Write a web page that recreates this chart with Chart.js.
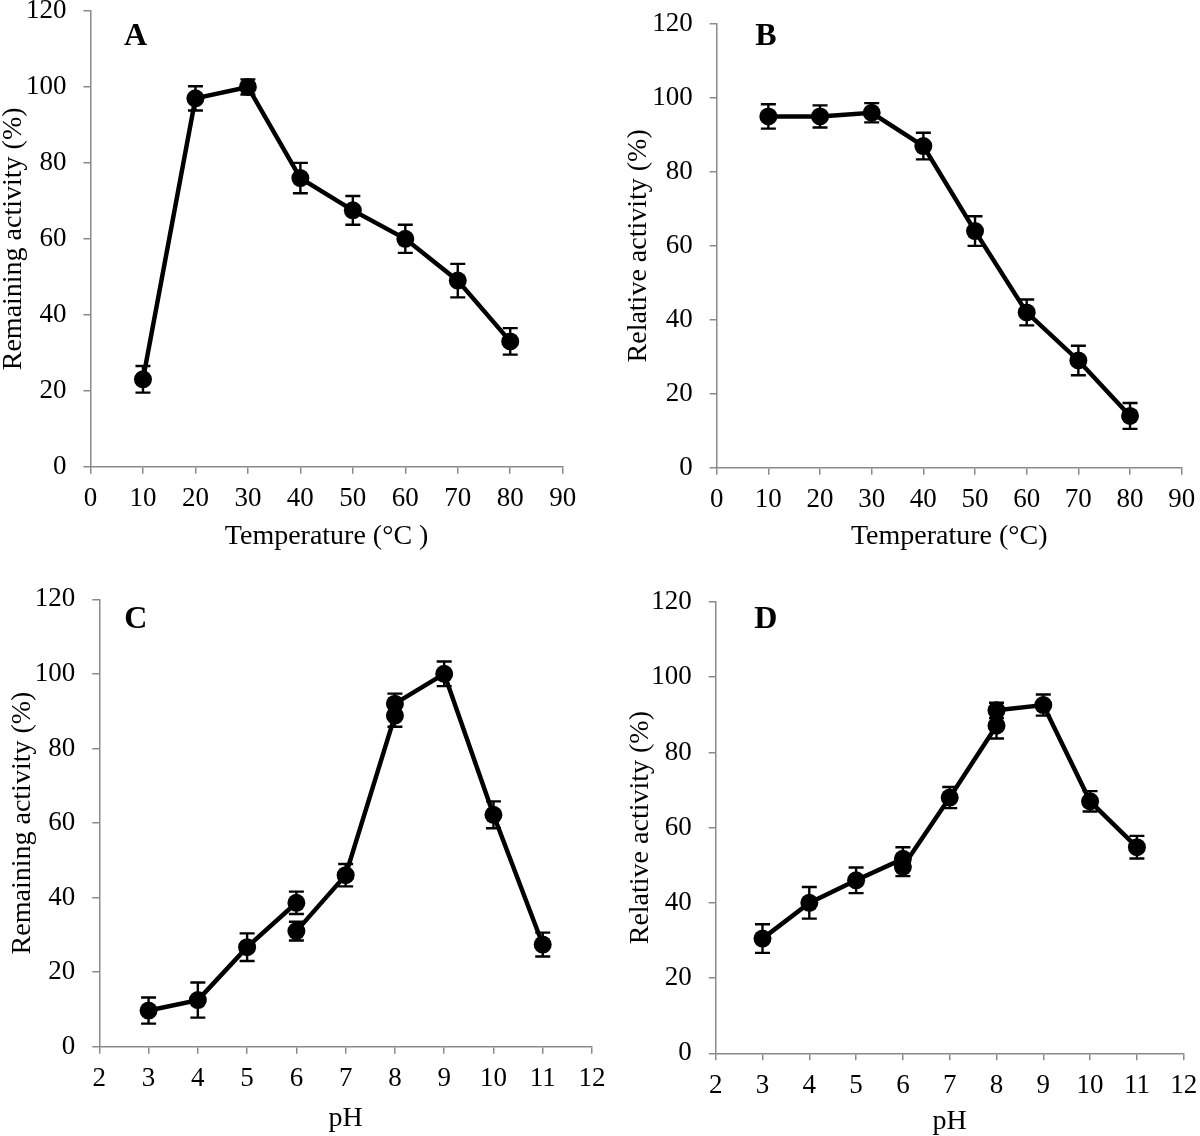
<!DOCTYPE html>
<html>
<head>
<meta charset="utf-8">
<script src="https://cdn.jsdelivr.net/npm/chart.js@4.4.1/dist/chart.umd.min.js"></script>
<style>
  body { margin: 0; background: #fff; }
  #wrap { position: relative; width: 1200px; height: 1136px; overflow: hidden; }
  canvas { position: absolute; }
</style>
</head>
<body>
<div id="wrap">
  <canvas id="chartA" width="620" height="568" style="left:0;top:0"></canvas>
  <canvas id="chartB" width="600" height="568" style="left:600px;top:0"></canvas>
  <canvas id="chartC" width="620" height="568" style="left:0;top:568px"></canvas>
  <canvas id="chartD" width="600" height="568" style="left:600px;top:568px"></canvas>
</div>
<script>
// temperature panels (A, B)
const tempX = [10, 20, 30, 40, 50, 60, 70, 80];
const remainTemp = [23, 97, 100, 76, 67.5, 60, 49, 33];
const remainTempErr = [3.5, 3.2, 2, 4, 3.8, 3.7, 4.4, 3.5];
const relTemp = [95, 95, 96, 87, 64, 42, 29, 14];
const relTempErr = [3.3, 3, 2.6, 3.6, 4, 3.5, 4, 3.5];

// pH panels (C, D) - three buffer ranges each
const phX1 = [3, 4, 5, 6];
const phX2 = [6, 7, 8];
const phX3 = [8, 9, 10, 11];
const remainPh1 = [9.7, 12.5, 26.7, 38.6];
const remainPh1Err = [3.5, 4.7, 3.7, 3];
const remainPh2 = [31, 46, 88.8];
const remainPh2Err = [2.5, 3, 3];
const remainPh3 = [92, 100, 62.2, 27.4];
const remainPh3Err = [2.7, 3.3, 3.6, 3.2];
const relPh1 = [30.5, 40, 46, 51.7];
const relPh1Err = [3.8, 4.2, 3.4, 3.1];
const relPh2 = [49.6, 68, 87.1];
const relPh2Err = [2.5, 2.8, 3.4];
const relPh3 = [91.2, 92.6, 67, 54.8];
const relPh3Err = [2, 2.8, 2.7, 3];

const yTicks = [0, 20, 40, 60, 80, 100, 120];

const serif = '"Liberation Serif", "Times New Roman", serif';
const axisGray = '#8a8a8a';

function series(xs, ys, errs) {
  return {
    data: xs.map((x, i) => ({ x: x, y: ys[i] })),
    errors: errs,
    showLine: true,
    borderColor: '#000',
    borderWidth: 4.5,
    backgroundColor: '#000',
    pointBackgroundColor: '#000',
    pointBorderWidth: 0,
    pointRadius: 9,
    tension: 0
  };
}

const errorBars = {
  id: 'errorBars',
  beforeDatasetsDraw(chart) {
    const { ctx, scales: { x, y } } = chart;
    ctx.save();
    ctx.strokeStyle = '#000';
    ctx.lineWidth = 2.4;
    chart.data.datasets.forEach(ds => {
      ds.data.forEach((p, i) => {
        const e = ds.errors[i];
        const px = x.getPixelForValue(p.x);
        const top = y.getPixelForValue(p.y + e);
        const bot = y.getPixelForValue(p.y - e);
        ctx.beginPath();
        ctx.moveTo(px, top); ctx.lineTo(px, bot);
        ctx.moveTo(px - 7.5, top); ctx.lineTo(px + 7.5, top);
        ctx.moveTo(px - 7.5, bot); ctx.lineTo(px + 7.5, bot);
        ctx.stroke();
      });
    });
    ctx.restore();
  }
};

const panelLetter = {
  id: 'panelLetter',
  afterDraw(chart, args, opts) {
    const { ctx, chartArea } = chart;
    ctx.save();
    ctx.font = 'bold 32px ' + serif;
    ctx.fillStyle = '#000';
    ctx.textBaseline = 'alphabetic';
    ctx.fillText(opts.text, chartArea.left + opts.dx, opts.baseline);
    ctx.restore();
  }
};

function makeChart(id, p) {
  const H = 568;
  new Chart(document.getElementById(id), {
    type: 'scatter',
    data: { datasets: p.datasets },
    plugins: [errorBars, panelLetter],
    options: {
      responsive: false,
      animation: false,
      layout: { padding: { top: p.top, right: p.width - p.right, bottom: 0, left: 0 } },
      plugins: {
        legend: { display: false },
        tooltip: { enabled: false },
        panelLetter: { text: p.letter, dx: p.letterDx, baseline: p.letterBase }
      },
      scales: {
        x: {
          type: 'linear',
          min: p.xMin, max: p.xMax,
          afterBuildTicks: s => { s.ticks = p.xTicks.map(v => ({ value: v })); },
          afterFit: s => { s.height = H - p.bottom; s.paddingLeft = 0; s.paddingRight = 0; },
          border: { display: true, color: axisGray, width: 1.5 },
          grid: { drawOnChartArea: false, drawTicks: true, tickLength: 7, color: axisGray, lineWidth: 1.5 },
          ticks: { color: '#000', padding: 9, font: { family: serif, size: 27 }, maxRotation: 0 },
          title: { display: true, text: p.xTitle, color: '#000',
                   font: { family: serif, size: 28, lineHeight: 1 },
                   padding: { top: 0, bottom: p.xTitlePad } }
        },
        y: {
          min: 0, max: 120,
          afterBuildTicks: s => { s.ticks = yTicks.map(v => ({ value: v })); },
          afterFit: s => { s.width = p.left; s.paddingTop = 0; s.paddingBottom = 0; },
          border: { display: true, color: axisGray, width: 1.5 },
          grid: { drawOnChartArea: false, drawTicks: true, tickLength: 7, color: axisGray, lineWidth: 1.5 },
          ticks: { color: '#000', padding: 17, font: { family: serif, size: 27 } },
          title: { display: true, text: p.yTitle, color: '#000',
                   font: { family: serif, size: 28, lineHeight: 1 },
                   padding: { top: p.yTitlePad, bottom: 0 } }
        }
      }
    }
  });
}

const tempTicks = [0, 10, 20, 30, 40, 50, 60, 70, 80, 90];
const phTicks = [2, 3, 4, 5, 6, 7, 8, 9, 10, 11, 12];

makeChart('chartA', {
  width: 620, left: 90.5, right: 562.7, top: 11, bottom: 466.7,
  xMin: 0, xMax: 90, xTicks: tempTicks,
  xTitle: 'Temperature (°C )', yTitle: 'Remaining activity (%)',
  xTitlePad: 17, yTitlePad: 0,
  letter: 'A', letterDx: 33.5, letterBase: 45,
  datasets: [series(tempX, remainTemp, remainTempErr)]
});

makeChart('chartB', {
  width: 600, left: 116.7, right: 581.7, top: 24, bottom: 467.7,
  xMin: 0, xMax: 90, xTicks: tempTicks,
  xTitle: 'Temperature (°C)', yTitle: 'Relative activity (%)',
  xTitlePad: 17, yTitlePad: 25,
  letter: 'B', letterDx: 38.5, letterBase: 45,
  datasets: [series(tempX, relTemp, relTempErr)]
});

makeChart('chartC', {
  width: 620, left: 99.3, right: 592, top: 31.3, bottom: 478.7,
  xMin: 2, xMax: 12, xTicks: phTicks,
  xTitle: 'pH', yTitle: 'Remaining activity (%)',
  xTitlePad: 3, yTitlePad: 9,
  letter: 'C', letterDx: 25, letterBase: 60,
  datasets: [
    series(phX1, remainPh1, remainPh1Err),
    series(phX2, remainPh2, remainPh2Err),
    series(phX3, remainPh3, remainPh3Err)
  ]
});

makeChart('chartD', {
  width: 600, left: 115.7, right: 583.7, top: 34, bottom: 485.3,
  xMin: 2, xMax: 12, xTicks: phTicks,
  xTitle: 'pH', yTitle: 'Relative activity (%)',
  xTitlePad: 0, yTitlePad: 27,
  letter: 'D', letterDx: 38.5, letterBase: 60,
  datasets: [
    series(phX1, relPh1, relPh1Err),
    series(phX2, relPh2, relPh2Err),
    series(phX3, relPh3, relPh3Err)
  ]
});
</script>
</body>
</html>
